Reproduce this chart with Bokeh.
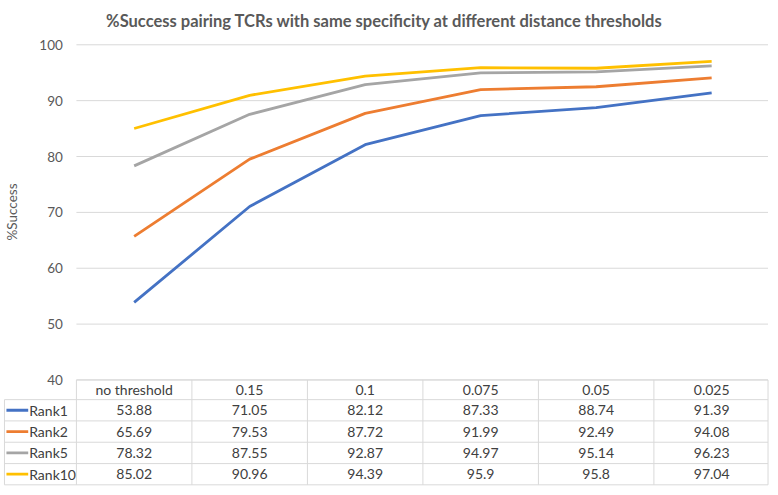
from bokeh.plotting import figure
from bokeh.models import Range1d
from bokeh.core.properties import value
from bokeh.embed import file_html
from bokeh.resources import INLINE

# ---- data ----
categories = ["no threshold", "0.15", "0.1", "0.075", "0.05", "0.025"]
series_names = ["Rank1", "Rank2", "Rank5", "Rank10"]
rank1 = [53.88, 71.05, 82.12, 87.33, 88.74, 91.39]
rank2 = [65.69, 79.53, 87.72, 91.99, 92.49, 94.08]
rank5 = [78.32, 87.55, 92.87, 94.97, 95.14, 96.23]
rank10 = [85.02, 90.96, 94.39, 95.9, 95.8, 97.04]
y_ticks = [40, 50, 60, 70, 80, 90, 100]
title_text = "%Success pairing TCRs with same specificity at different distance thresholds"
y_title = "%Success"

series = [rank1, rank2, rank5, rank10]
colors = ["#4472C4", "#ED7D31", "#A5A5A5", "#FFC000"]

# ---- layout (reference pixel coordinates, mapped onto the canvas) ----
W, H = 770, 487
REF_W, REF_H = 778, 495
X0 = 76.7          # left edge of first category column
CW = 116.7         # column width
Y40 = 385.7        # pixel y of value 40
PPU = 5.678        # pixels per unit
X_RIGHT = 775.5
TABLE_LEFT = 4
row_edges = [385.7, 405.7, 427.3, 449.0, 470.7, 492.3]

x_range = Range1d((0 - X0) / CW, (REF_W - X0) / CW)
y_range = Range1d(40 - (REF_H - Y40) / PPU, 40 + Y40 / PPU)

p = figure(width=W, height=H, x_range=x_range, y_range=y_range,
           output_backend="svg", toolbar_location=None, min_border=0,
           x_axis_location=None, y_axis_location=None,
           outline_line_color=None, background_fill_color="white",
           border_fill_color="white")
p.xgrid.visible = False
p.ygrid.visible = False
p.extra_x_ranges = {"px": Range1d(0, REF_W)}
p.extra_y_ranges = {"px": Range1d(REF_H, 0)}

FONT = value("Lato")
TXT = "#404040"
AX = "#595959"
GRID = "#D9D9D9"

# gridlines
p.segment(x0=[X0] * len(y_ticks), x1=[X_RIGHT] * len(y_ticks), y0=y_ticks, y1=y_ticks,
          line_color=GRID, line_width=1, x_range_name="px")

# y tick labels
p.text(x=[63] * len(y_ticks), y=y_ticks, text=[str(t) for t in y_ticks],
       text_font=FONT, text_font_size="13.5px", text_color=AX,
       text_align="right", text_baseline="middle", x_range_name="px")

# y axis title
p.text(x=[12], y=[215], text=[y_title], angle=1.5708,
       text_font=FONT, text_font_size="13.5px", text_color=AX,
       text_align="center", text_baseline="middle",
       x_range_name="px", y_range_name="px")

# chart title
p.text(x=[388], y=[21], text=[title_text],
       text_font=FONT, text_font_size="16.5px", text_font_style="bold", text_color=AX,
       text_align="center", text_baseline="middle",
       x_range_name="px", y_range_name="px")

# series lines
xs = [i + 0.5 for i in range(len(categories))]
for vals, c in zip(series, colors):
    p.line(x=xs, y=vals, line_color=c, line_width=2.8, line_join="round")

# ---- data table ----
col_edges = [X0 + CW * k for k in range(len(categories) + 1)]
hx0 = [X0] + [TABLE_LEFT] * (len(row_edges) - 1)
hx1 = [X_RIGHT] * len(row_edges)
p.segment(x0=hx0, x1=hx1, y0=row_edges, y1=row_edges, line_color=GRID, line_width=1,
          x_range_name="px", y_range_name="px")
vx = [TABLE_LEFT] + col_edges[:-1] + [X_RIGHT]
vy0 = [row_edges[1]] + [row_edges[0]] * (len(vx) - 1)
vy1 = [row_edges[-1]] * len(vx)
p.segment(x0=vx, x1=vx, y0=vy0, y1=vy1, line_color=GRID, line_width=1,
          x_range_name="px", y_range_name="px")

row_centers = [(row_edges[k] + row_edges[k + 1]) / 2 for k in range(len(row_edges) - 1)]

p.text(x=xs, y=[row_centers[0]] * len(categories), text=categories, text_font=FONT,
       text_font_size="14px", text_color=TXT, text_align="center",
       text_baseline="middle", y_range_name="px")

for r, (name, vals, c) in enumerate(zip(series_names, series, colors)):
    yc = row_centers[r + 1]
    p.segment(x0=[6], x1=[28], y0=[yc], y1=[yc], line_color=c, line_width=2.8,
              x_range_name="px", y_range_name="px")
    p.text(x=[29], y=[yc], text=[name], text_font=FONT, text_font_size="14px",
           text_color=TXT, text_align="left", text_baseline="middle",
           x_range_name="px", y_range_name="px")
    p.text(x=xs, y=[yc] * len(vals), text=[str(v) for v in vals], text_font=FONT,
           text_font_size="14px", text_color=TXT, text_align="center",
           text_baseline="middle", y_range_name="px")

open("out.html", "w").write(file_html(p, INLINE))
